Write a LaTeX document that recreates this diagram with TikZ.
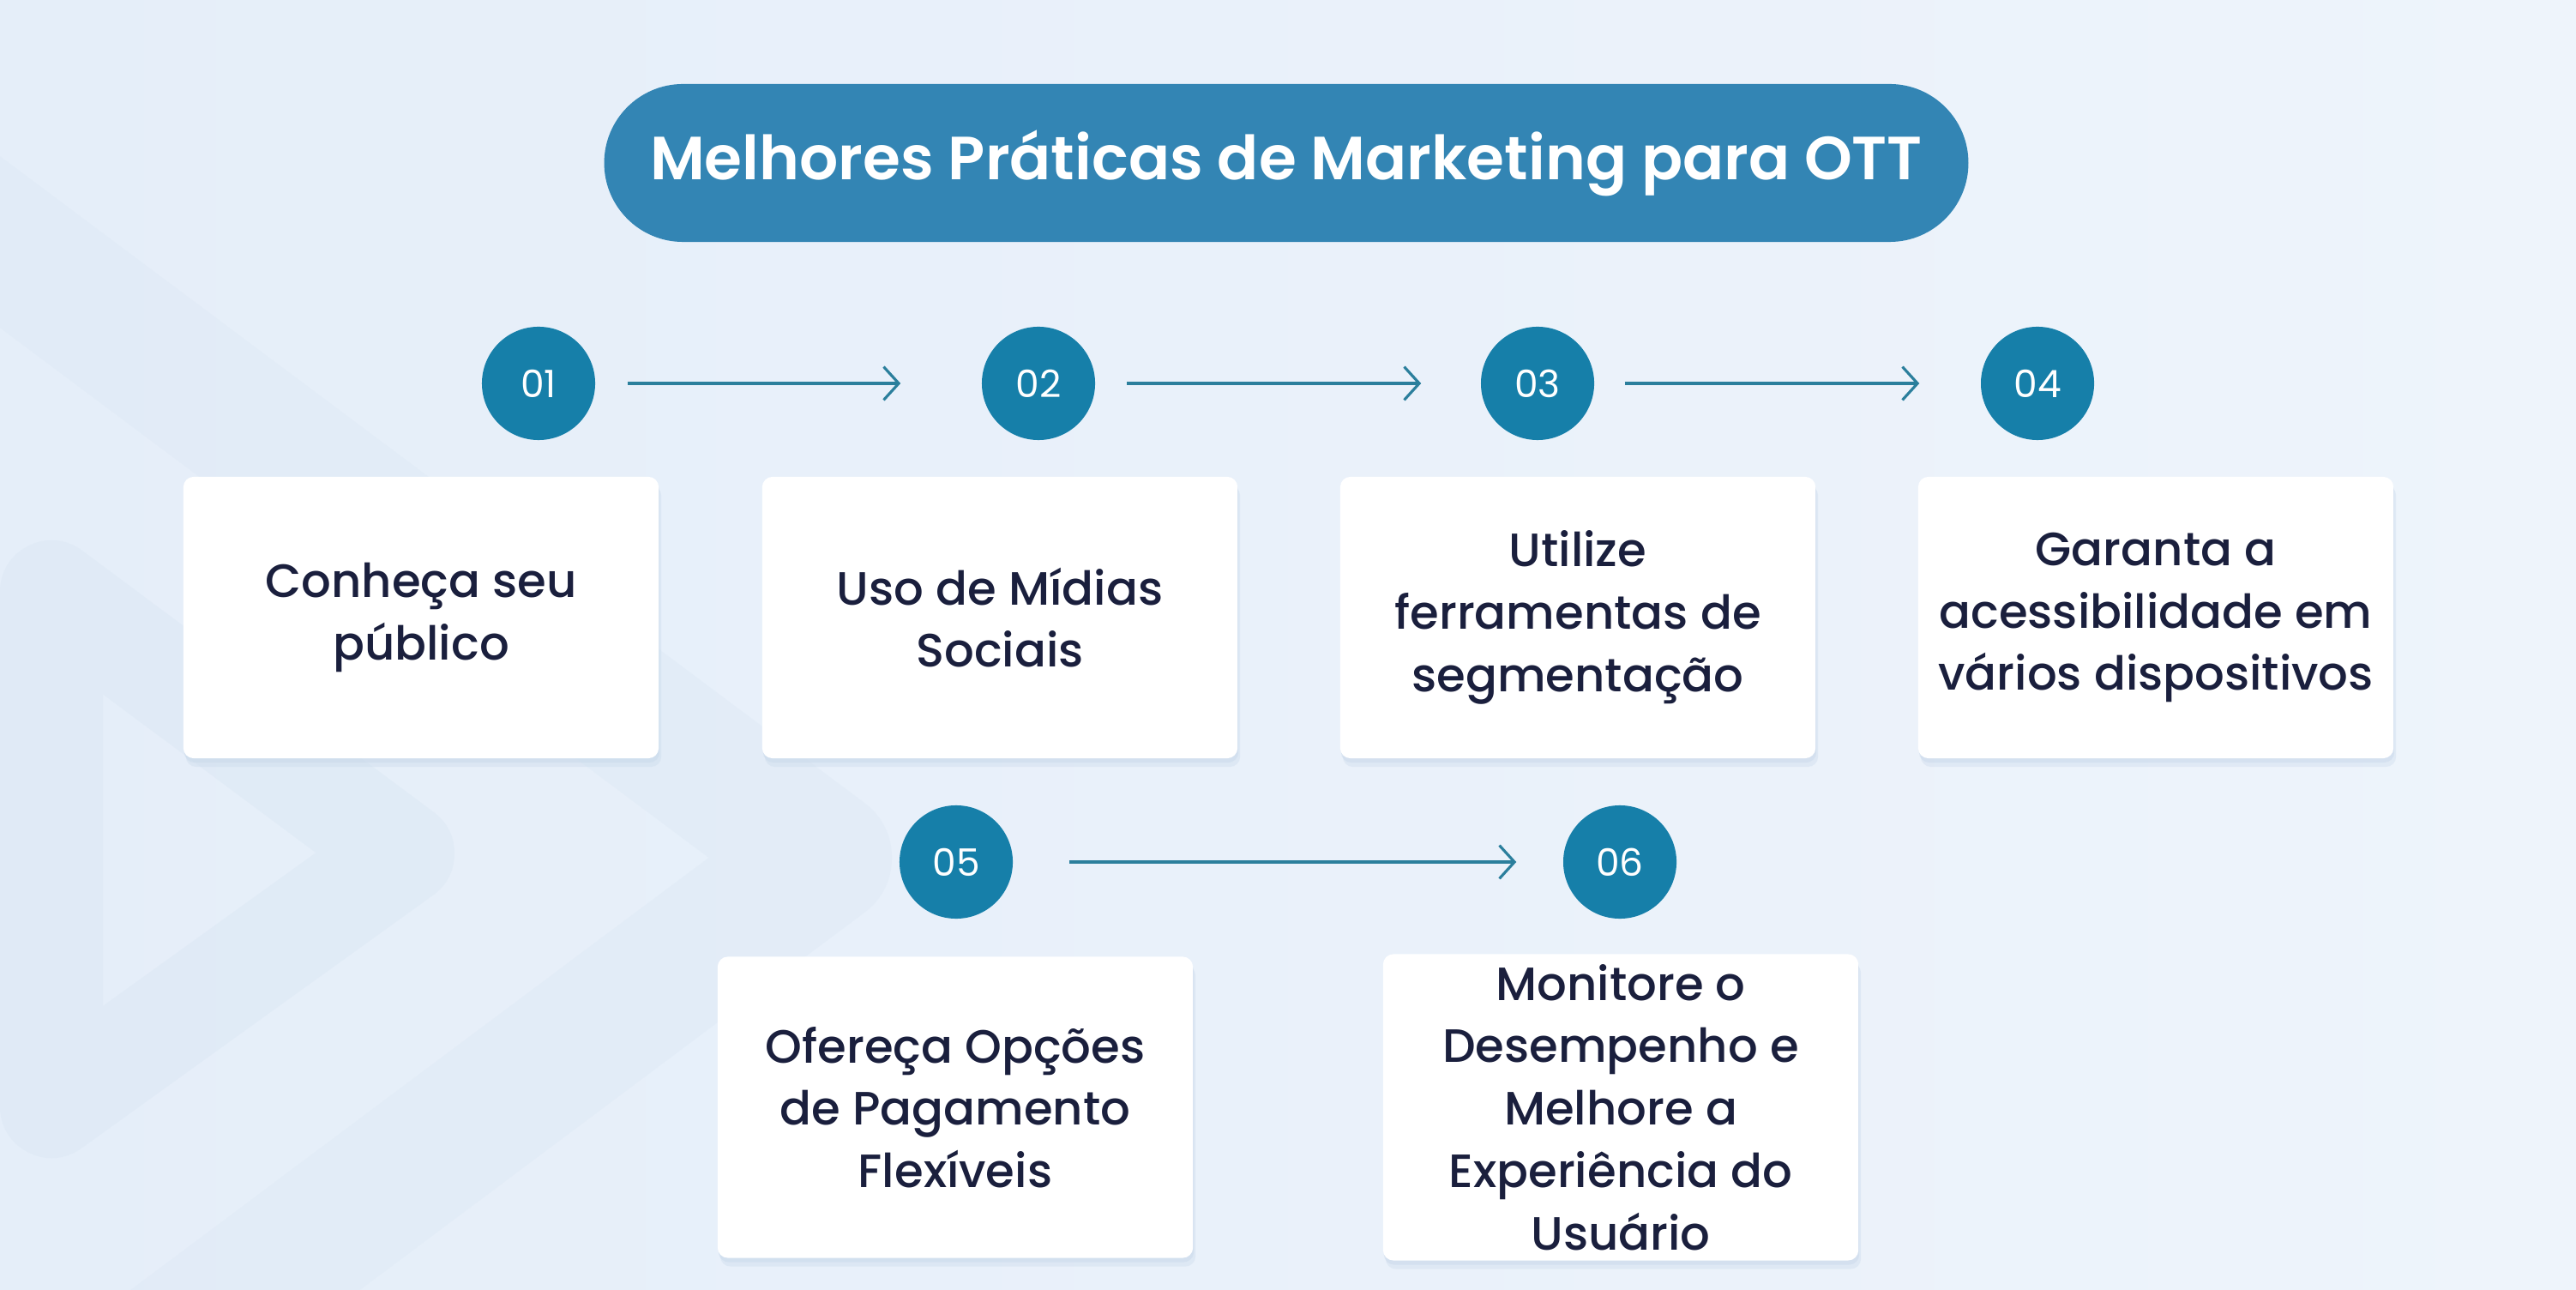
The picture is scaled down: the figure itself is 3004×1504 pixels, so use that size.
\documentclass[tikz,border=0pt]{standalone}
\usepackage{fontspec}
\setmainfont{Poppins}
\newfontfamily\titlefont{Poppins SemiBold}
\newfontfamily\cardfont{Poppins Medium}
\usetikzlibrary{arrows.meta, shadows}
\definecolor{bgleft}{HTML}{E5EEF9}
\definecolor{bgright}{HTML}{EEF4FB}
\definecolor{bgshade}{HTML}{D9E6F3}
\definecolor{titleblue}{HTML}{3385B4}
\definecolor{numblue}{HTML}{167FA9}
\definecolor{flowteal}{HTML}{2B7F9C}
\definecolor{ink}{HTML}{1A1F3D}
\definecolor{shadowblue}{HTML}{C8D8EA}

\begin{document}
\begin{tikzpicture}[x=0.01cm, y=-0.01cm,
  stepnum/.style={circle, fill=numblue, text=white, minimum size=1.32cm,
    inner sep=0pt, font=\fontsize{12.5}{12.5}\selectfont},
  card/.style={fill=white, rounded corners=0.12cm, minimum width=5.54cm,
    minimum height=3.28cm, align=center, text=ink,
    font=\cardfont\fontsize{15.5}{20.7}\selectfont,
    drop shadow={shadow xshift=0.03cm, shadow yshift=-0.1cm,
      fill=shadowblue, opacity=0.35},
    drop shadow={shadow xshift=0.01cm, shadow yshift=-0.05cm,
      fill=shadowblue, opacity=0.45}},
  flow/.style={draw=flowteal, line width=0.9pt,
    -{Straight Barb[length=5pt, width=11pt, line width=0.9pt]}}]
  % 背景
  \shade[left color=bgleft, right color=bgright] (0,0) rectangle (3004,1504);
  \useasboundingbox (0,0) rectangle (3004,1504);
  \begin{scope}
    \clip (0,0) rectangle (3004,1504);
    \draw[bgshade, opacity=0.3, line width=1.6cm, line join=round]
      (-150,170) -- (960,1000) -- (-150,1830);
    \draw[bgshade, opacity=0.4, line width=1.2cm, line join=round]
      (60,690) -- (470,995) -- (60,1290) -- cycle;
  \end{scope}
  % 标题
  \node[fill=titleblue, rounded corners=0.92cm, minimum width=15.9cm,
    minimum height=1.84cm, text=white,
    font=\titlefont\fontsize{20.2}{20.2}\selectfont] (title) at (1500,190)
    {Melhores Práticas de Marketing para OTT};
  % 编号
  \node[stepnum] (n1) at (628,447) {01};
  \node[stepnum] (n2) at (1211,447) {02};
  \node[stepnum] (n3) at (1793,447) {03};
  \node[stepnum] (n4) at (2376,447) {04};
  \node[stepnum] (n5) at (1115,1005) {05};
  \node[stepnum] (n6) at (1889,1005) {06};
  % 箭头
  \draw[flow] ([xshift=0.37cm]n1.east) -- ([xshift=-0.94cm]n2.west);
  \draw[flow] ([xshift=0.36cm]n2.east) -- ([xshift=-0.69cm]n3.west);
  \draw[flow] ([xshift=0.35cm]n3.east) -- ([xshift=-0.71cm]n4.west);
  \draw[flow] ([xshift=0.65cm]n5.east) -- ([xshift=-0.54cm]n6.west);
  % 卡片
  \node[card] (c1) at (491,720) {Conheça seu\\público};
  \node[card] (c2) at (1166,720) {Uso de Mídias\\Sociais};
  \node[card] (c3) at (1840,720) {Utilize\\ferramentas de\\segmentação};
  \node[card] (c4) at (2514,720) {Garanta a\\acessibilidade em\\vários dispositivos};
  \node[card, minimum height=3.51cm] (c5) at (1114,1291)
    {Ofereça Opções\\de Pagamento\\Flexíveis};
  \node[card, minimum height=3.51cm] (c6) at (1890,1291)
    {Monitore o\\Desempenho e\\Melhore a\\Experiência do\\Usuário};
\end{tikzpicture}
\end{document}
